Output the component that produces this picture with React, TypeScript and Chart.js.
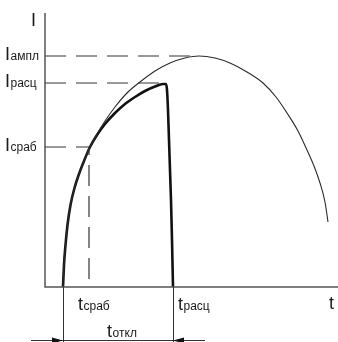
import React, { useEffect, useRef } from 'react';
import { Chart, registerables } from 'chart.js';

Chart.register(...registerables);

// Axis ranges (arbitrary units: t — time, I — current)
const T_MAX = 293;
const I_MAX = 274;

// Prospective (thin) current curve
const prospT = [18, 19, 20.5, 22.5, 25.5, 29.5, 34, 39, 45, 52, 60, 70, 82, 95, 110, 125, 140, 154, 170, 185, 202, 218, 231, 242, 253, 262, 269, 275, 280, 283];
const prospI = [0, 22, 42, 62, 82, 99, 113, 126, 140, 153, 166, 180, 194, 205, 216, 224, 229, 231, 229, 224, 215, 204, 190, 174, 156, 137, 121, 104, 85, 65];

// Limited (thick) current curve
const limT = [18, 19, 20.5, 22.5, 25.5, 29.5, 34, 39, 45, 52, 60, 70, 80, 90, 100, 110, 118, 121, 122, 123, 124, 125, 126, 127, 128];
const limI = [0, 22, 42, 62, 82, 99, 113, 126, 140, 152, 163, 174, 183, 190, 196, 200.5, 203, 203, 197, 177, 147, 117, 87, 47, 0];

// Current levels
const levelNames = ['ампл', 'расц', 'сраб'];
const levelI = [231, 204, 140];
const levelEndT = [154, 118, 44];

// Time marks
const tStart = 18;
const tSrab = 44;
const tRasc = 128;
const tickNames = ['сраб', 'расц'];
const tickT = [tSrab, tRasc];
const spanName = 'откл';

const MAIN_FONT = '18px "Liberation Sans", Arial, sans-serif';
const SUB_FONT = '12px "Liberation Sans", Arial, sans-serif';
const TEXT_COLOR = '#1a1a1a';

function drawSubLabel(ctx: CanvasRenderingContext2D, main: string, sub: string, x: number, y: number) {
  ctx.font = MAIN_FONT;
  ctx.fillText(main, x, y);
  const w = ctx.measureText(main).width;
  ctx.font = SUB_FONT;
  ctx.fillText(sub, x + w + 0.5, y);
}

function subLabelWidth(ctx: CanvasRenderingContext2D, main: string, sub: string) {
  ctx.font = MAIN_FONT;
  const w1 = ctx.measureText(main).width;
  ctx.font = SUB_FONT;
  const w2 = ctx.measureText(sub).width;
  return w1 + 0.5 + w2;
}

const decorPlugin = {
  id: 'decor',
  afterDatasetsDraw(chart: any) {
    const ctx: CanvasRenderingContext2D = chart.ctx;
    const xs = chart.scales.x;
    const ys = chart.scales.y;
    const x0 = xs.getPixelForValue(0);
    const xR = xs.getPixelForValue(T_MAX);
    const y0 = ys.getPixelForValue(0);
    const yT = ys.getPixelForValue(I_MAX);
    ctx.save();

    // axes
    ctx.strokeStyle = '#555';
    ctx.lineWidth = 1.5;
    ctx.setLineDash([]);
    ctx.beginPath();
    ctx.moveTo(x0, yT);
    ctx.lineTo(x0, y0);
    ctx.lineTo(xR, y0);
    ctx.stroke();

    // extension lines below axis
    const xs0 = xs.getPixelForValue(tStart);
    const xs1 = xs.getPixelForValue(tRasc);
    const H = chart.height;
    ctx.strokeStyle = '#333';
    ctx.lineWidth = 1;
    ctx.beginPath();
    ctx.moveTo(Math.round(xs0) + 0.5, y0);
    ctx.lineTo(Math.round(xs0) + 0.5, H);
    ctx.moveTo(Math.round(xs1) + 0.5, y0);
    ctx.lineTo(Math.round(xs1) + 0.5, H);
    ctx.stroke();

    // dimension line with arrows
    const ay = y0 + 53.5;
    ctx.beginPath();
    ctx.moveTo(xs0 - 32, ay);
    ctx.lineTo(xs1 + 32, ay);
    ctx.stroke();
    ctx.fillStyle = '#111';
    ctx.beginPath();
    ctx.moveTo(xs0, ay);
    ctx.lineTo(xs0 - 11, ay - 3);
    ctx.lineTo(xs0 - 11, ay + 3);
    ctx.closePath();
    ctx.fill();
    ctx.beginPath();
    ctx.moveTo(xs1, ay);
    ctx.lineTo(xs1 + 11, ay - 3);
    ctx.lineTo(xs1 + 11, ay + 3);
    ctx.closePath();
    ctx.fill();

    // text
    ctx.fillStyle = TEXT_COLOR;
    ctx.textBaseline = 'alphabetic';
    ctx.textAlign = 'left';
    ctx.font = MAIN_FONT;
    ctx.fillText('I', x0 - 14, yT + 13);
    ctx.fillText('t', xR - 9, y0 + 22);

    levelNames.forEach((name, i) => {
      const py = ys.getPixelForValue(levelI[i]);
      drawSubLabel(ctx, 'I', name, x0 - 40, py + 4);
    });

    tickNames.forEach((name, i) => {
      const px = xs.getPixelForValue(tickT[i]);
      const x = i === 0 ? px - 11 : px + 5;
      drawSubLabel(ctx, 't', name, x, y0 + 23);
    });

    const w = subLabelWidth(ctx, 't', spanName);
    drawSubLabel(ctx, 't', spanName, (xs0 + xs1) / 2 - w / 2 + 4, y0 + 50);

    ctx.restore();
  },
};

export default function App() {
  const ref = useRef<HTMLCanvasElement | null>(null);

  useEffect(() => {
    document.body.style.margin = '0';
    const canvas = ref.current;
    if (!canvas) return;

    const dash = [21, 10];
    const dashColor = '#333';
    const levelDatasets = levelNames.map((name, i) => {
      const pts = [
        { x: 0, y: levelI[i] },
        { x: levelEndT[i], y: levelI[i] },
      ];
      if (i === 2) pts.push({ x: levelEndT[i], y: 0 });
      return {
        label: 'I ' + name,
        data: pts,
        borderColor: dashColor,
        borderWidth: 1.2,
        borderDash: dash,
        pointRadius: 0,
        tension: 0,
        fill: false,
      };
    });

    const chart = new Chart(canvas, {
      type: 'line',
      data: {
        datasets: [
          ...levelDatasets,
          {
            label: 'prospective',
            data: prospT.map((t, i) => ({ x: t, y: prospI[i] })),
            borderColor: '#2a2a2a',
            borderWidth: 1.1,
            pointRadius: 0,
            cubicInterpolationMode: 'monotone',
            fill: false,
          },
          {
            label: 'limited',
            data: limT.map((t, i) => ({ x: t, y: limI[i] })),
            borderColor: '#111',
            borderWidth: 2.6,
            pointRadius: 0,
            cubicInterpolationMode: 'monotone',
            fill: false,
          },
        ],
      } as any,
      options: {
        responsive: false,
        animation: false,
        devicePixelRatio: 1,
        layout: { padding: { left: 45, top: 13, right: 0, bottom: 55 } },
        plugins: { legend: { display: false }, tooltip: { enabled: false } },
        scales: {
          x: { type: 'linear', min: 0, max: T_MAX, display: false },
          y: { type: 'linear', min: 0, max: I_MAX, display: false },
        },
      } as any,
      plugins: [decorPlugin],
    });
    return () => chart.destroy();
  }, []);

  return (
    <div style={{ width: 338, height: 342, background: '#fff' }}>
      <canvas ref={ref} width={338} height={342} style={{ display: 'block' }} />
    </div>
  );
}
